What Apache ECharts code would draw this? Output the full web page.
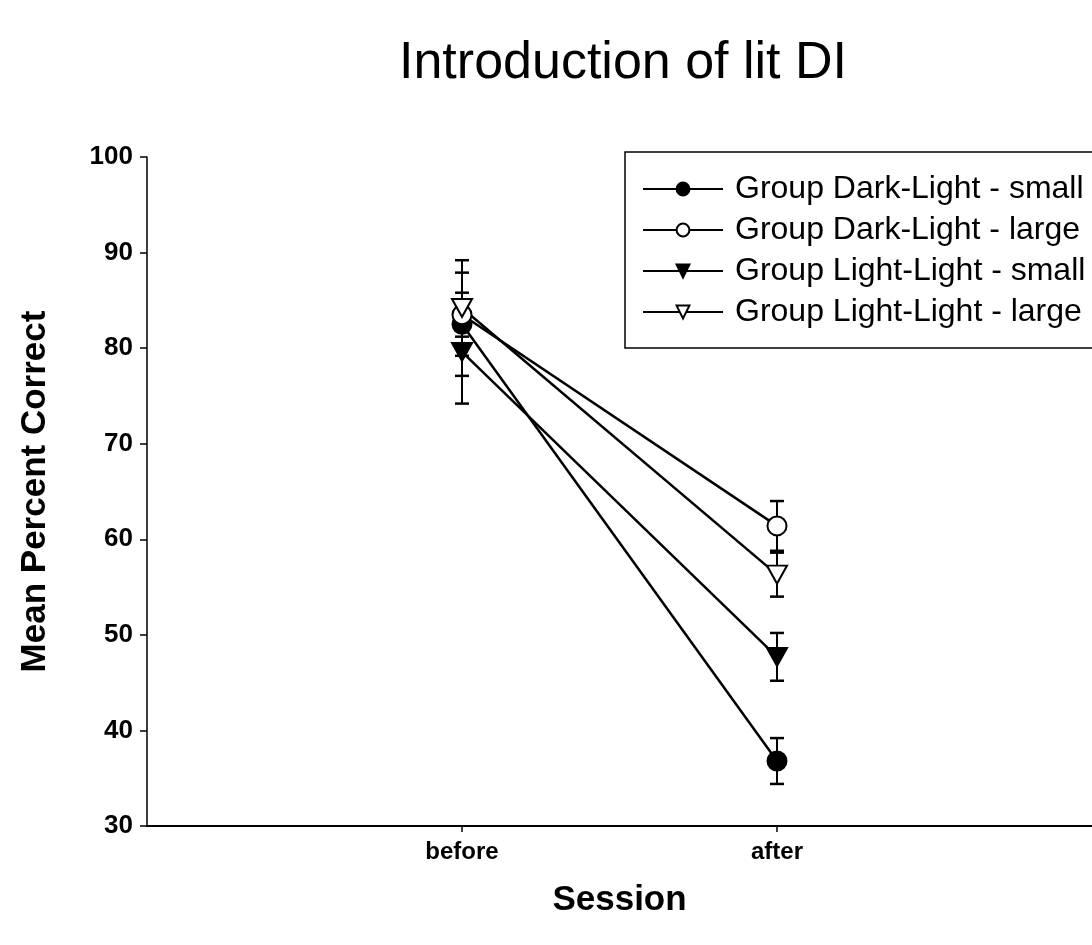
<!DOCTYPE html>
<html>
<head>
<meta charset="utf-8">
<title>Introduction of lit DI</title>
<script src="https://cdn.jsdelivr.net/npm/echarts@6/dist/echarts.min.js"></script>
<style>
  html, body { margin: 0; padding: 0; background: #fff; }
  #chart { width: 1092px; height: 945px; }
</style>
</head>
<body>
<div id="chart"></div>
<script>
// Sessions, placed at x = 1 and x = 2 on a 0..3 value axis
const sessions = ['before', 'after'];

// Group means (percent correct) per session
const darkLightSmall = [82.5, 36.8];
const darkLightLarge = [83.5, 61.4];
const lightLightSmall = [79.6, 47.7];
const lightLightLarge = [84.2, 56.3];

// Error bar half-widths per session
const darkLightSmallErr = [5.4, 2.4];
const darkLightLargeErr = [2.3, 2.6];
const lightLightSmallErr = [5.4, 2.5];
const lightLightLargeErr = [5.0, 2.3];

const seriesNames = [
  'Group Dark-Light - small',
  'Group Dark-Light - large',
  'Group Light-Light - small',
  'Group Light-Light - large'
];

const yTicks = [30, 40, 50, 60, 70, 80, 90, 100];

const FONT = '"Liberation Sans", Arial, Helvetica, sans-serif';
const downTri = 'path://M0,0 L20,0 L10,18 Z';

const groups = [
  { name: seriesNames[0], values: darkLightSmall, err: darkLightSmallErr, symbol: 'circle', fill: '#000', size: 19 },
  { name: seriesNames[1], values: darkLightLarge, err: darkLightLargeErr, symbol: 'circle', fill: '#fff', size: 19 },
  { name: seriesNames[2], values: lightLightSmall, err: lightLightSmallErr, symbol: downTri, fill: '#000', size: [20, 18] },
  { name: seriesNames[3], values: lightLightLarge, err: lightLightLargeErr, symbol: downTri, fill: '#fff', size: [20, 18] }
];

const pos = i => i + 1;

// Vertical error bars with caps
const errSeries = groups.map(g => ({
  type: 'custom',
  name: g.name + ' err',
  z: 1,
  silent: true,
  data: g.values.map((v, i) => [pos(i), v - g.err[i], v + g.err[i]]),
  renderItem: (params, api) => {
    const lo = api.coord([api.value(0), api.value(1)]);
    const hi = api.coord([api.value(0), api.value(2)]);
    const cap = 7;
    const bar = { stroke: '#000', lineWidth: 2 };
    const capStyle = { stroke: '#000', lineWidth: 2.5 };
    return {
      type: 'group',
      children: [
        { type: 'line', shape: { x1: lo[0], y1: lo[1], x2: hi[0], y2: hi[1] }, style: bar },
        { type: 'line', shape: { x1: hi[0] - cap, y1: hi[1], x2: hi[0] + cap, y2: hi[1] }, style: capStyle },
        { type: 'line', shape: { x1: lo[0] - cap, y1: lo[1], x2: lo[0] + cap, y2: lo[1] }, style: capStyle }
      ]
    };
  }
}));

const lineSeries = groups.map(g => ({
  type: 'line',
  name: g.name,
  z: 3,
  data: g.values.map((v, i) => [pos(i), v]),
  symbol: g.symbol,
  symbolSize: g.size,
  showAllSymbol: true,
  lineStyle: { color: '#000', width: 2.5 },
  itemStyle: { color: g.fill, borderColor: '#000', borderWidth: 2 },
  emphasis: { disabled: true }
}));

const chart = echarts.init(document.getElementById('chart'), null, { renderer: 'canvas' });
chart.setOption({
  animation: false,
  backgroundColor: '#fff',
  title: {
    text: 'Introduction of lit DI',
    left: 618,
    textAlign: 'center',
    top: 33,
    textStyle: { fontFamily: FONT, fontSize: 52, fontWeight: 'normal', color: '#000' }
  },
  legend: {
    data: seriesNames,
    orient: 'vertical',
    left: 625,
    top: 152,
    padding: [21, 40, 20, 17],
    itemGap: 9,
    itemWidth: 80,
    itemHeight: 16,
    borderColor: '#000',
    borderWidth: 1.5,
    textStyle: { fontFamily: FONT, fontSize: 32, color: '#000', padding: [0, 0, 0, 7] }
  },
  grid: { left: 147, right: 0, top: 157, bottom: 119, containLabel: false },
  xAxis: {
    type: 'value',
    min: 0,
    max: 3,
    interval: 1,
    name: 'Session',
    nameLocation: 'middle',
    nameGap: 57,
    nameTextStyle: { fontFamily: FONT, fontSize: 35, color: '#000', fontWeight: 'bold' },
    axisLine: { show: true, lineStyle: { color: '#000', width: 2 } },
    axisTick: { show: true, customValues: [1, 2], length: 6, lineStyle: { color: '#000', width: 1.5 } },
    axisLabel: {
      customValues: [1, 2],
      formatter: v => sessions[v - 1] || '',
      margin: 14,
      fontFamily: FONT, fontSize: 24, fontWeight: 'bold', color: '#000'
    },
    splitLine: { show: false }
  },
  yAxis: {
    type: 'value',
    min: yTicks[0],
    max: yTicks[yTicks.length - 1],
    interval: 10,
    name: 'Mean Percent Correct',
    nameLocation: 'middle',
    nameGap: 94,
    nameTextStyle: { fontFamily: FONT, fontSize: 35, color: '#000', fontWeight: 'bold' },
    axisLine: { show: true, lineStyle: { color: '#000', width: 1.5 } },
    axisTick: { show: true, length: 7, lineStyle: { color: '#000', width: 1.5 } },
    axisLabel: { margin: 14, fontFamily: FONT, fontSize: 26, fontWeight: 'bold', color: '#000' },
    splitLine: { show: false }
  },
  series: [...errSeries, ...lineSeries]
});
</script>
</body>
</html>
